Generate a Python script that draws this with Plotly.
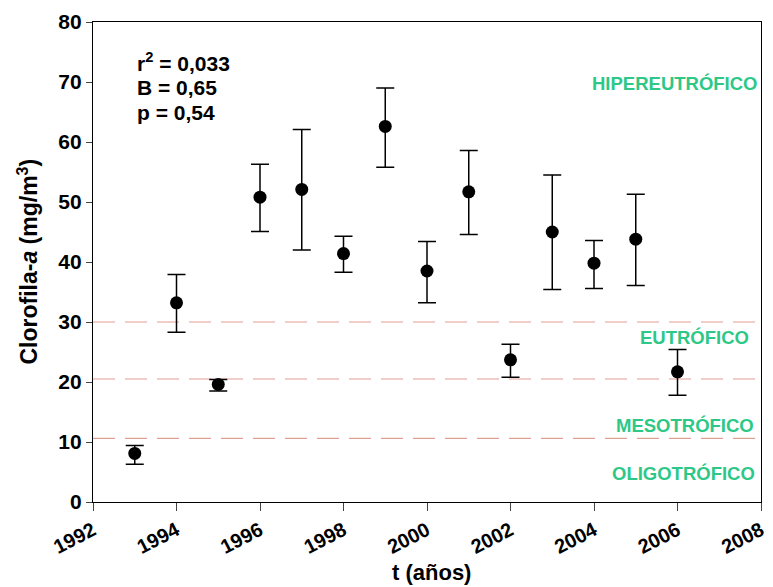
import plotly.graph_objects as go

years = [1993, 1994, 1995, 1996, 1997, 1998, 1999, 2000, 2001, 2002, 2003, 2004, 2005, 2006]
chl = [8.1, 33.2, 19.6, 50.8, 52.1, 41.4, 62.6, 38.5, 51.7, 23.7, 45.0, 39.8, 43.8, 21.7]
err_up = [9.4, 37.9, 20.4, 56.3, 62.1, 44.3, 69.0, 43.4, 58.6, 26.3, 54.5, 43.6, 51.3, 25.4]
err_lo = [6.3, 28.3, 18.5, 45.1, 42.0, 38.3, 55.8, 33.2, 44.6, 20.8, 35.4, 35.6, 36.1, 17.8]
thresholds = [30.0, 20.5, 10.6]
state_labels = ["HIPEREUTRÓFICO", "EUTRÓFICO", "MESOTRÓFICO", "OLIGOTRÓFICO"]
state_y = [69.8, 27.5, 12.8, 4.8]
state_x = [2007.95, 2007.75, 2007.87, 2007.9]
stats_text = ["r<sup>2</sup> = 0,033", "B = 0,65", "p = 0,54"]
stats_y = [73.3, 69.1, 65.0]
x_ticks = list(range(1992, 2009, 2))
y_ticks = list(range(0, 81, 10))

plus = [u - v for u, v in zip(err_up, chl)]
minus = [v - l for v, l in zip(chl, err_lo)]

fig = go.Figure()
for t in thresholds:
    fig.add_trace(go.Scatter(x=[1992, 2008], y=[t, t], mode="lines",
                             line=dict(color="rgb(225,160,150)", width=1.2, dash="22px,10px"),
                             hoverinfo="skip", showlegend=False))
fig.add_trace(go.Scatter(
    x=years, y=chl, mode="markers",
    marker=dict(color="black", size=13),
    error_y=dict(type="data", symmetric=False, array=plus, arrayminus=minus,
                 color="black", thickness=1.5, width=9),
    showlegend=False))

fnt = "Arial, Liberation Sans, sans-serif"
for lab, xv, yv in zip(state_labels, state_x, state_y):
    fig.add_annotation(x=xv, y=yv, text="<b>" + lab + "</b>", showarrow=False,
                       xanchor="right", yanchor="middle",
                       font=dict(family=fnt, size=18.5, color="rgb(45,200,135)"))

for txt, yv in zip(stats_text, stats_y):
    fig.add_annotation(x=1993.0, y=yv, text="<b>" + txt + "</b>", showarrow=False,
                       xanchor="left", yanchor="middle",
                       font=dict(family=fnt, size=21, color="black"))

fig.add_annotation(xref="paper", yref="paper", x=-0.098, y=0.5, textangle=-90,
                   text="<b>Clorofila-<i>a</i> (mg/m<sup>3</sup>)</b>", showarrow=False,
                   xanchor="center", yanchor="middle",
                   font=dict(family=fnt, size=23, color="black"))
fig.add_annotation(xref="paper", yref="paper", x=0.507, y=-0.146,
                   text="<b>t (años)</b>", showarrow=False,
                   xanchor="center", yanchor="middle",
                   font=dict(family=fnt, size=22, color="black"))

fig.update_layout(
    width=773, height=587,
    margin=dict(l=93, r=6, t=22, b=85),
    paper_bgcolor="white", plot_bgcolor="white",
    font=dict(family=fnt, color="black"),
    xaxis=dict(range=[1992, 2008], tickvals=x_ticks, ticktext=["<b>%d</b>" % v for v in x_ticks],
               tickangle=-27, ticks="outside", ticklen=8, tickwidth=1.2,
               ticklabeloverflow="allow",
               showline=True, linecolor="black", linewidth=1.3, mirror=True,
               showgrid=False, zeroline=False,
               tickfont=dict(family=fnt, size=20, color="black")),
    yaxis=dict(range=[0, 80], tickvals=y_ticks, ticktext=["<b>%d</b>" % v for v in y_ticks],
               ticks="outside", ticklen=6, tickwidth=1.2,
               showline=True, linecolor="black", linewidth=1.3, mirror=True,
               showgrid=False, zeroline=False,
               tickfont=dict(family=fnt, size=21, color="black")),
)

fig.write_html("out.html")
